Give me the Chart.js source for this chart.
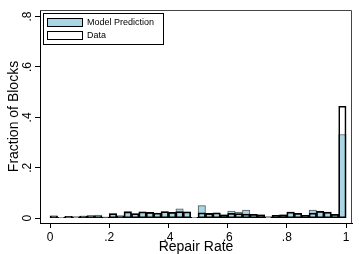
<!DOCTYPE html>
<html>
<head>
<meta charset="utf-8">
<script src="https://cdn.jsdelivr.net/npm/chart.js@4.4.1/dist/chart.umd.min.js"></script>
<style>
  html, body { margin: 0; padding: 0; background: #fff; }
</style>
</head>
<body>
<canvas id="chart" width="359" height="254"></canvas>
<script>
// histogram bins of width .025 on the repair rate
const binCenters = [
  0.0125, 0.0375, 0.0625, 0.0875, 0.1125, 0.1375, 0.1625, 0.1875, 0.2125, 0.2375,
  0.2625, 0.2875, 0.3125, 0.3375, 0.3625, 0.3875, 0.4125, 0.4375, 0.4625, 0.4875,
  0.5125, 0.5375, 0.5625, 0.5875, 0.6125, 0.6375, 0.6625, 0.6875, 0.7125, 0.7375,
  0.7625, 0.7875, 0.8125, 0.8375, 0.8625, 0.8875, 0.9125, 0.9375, 0.9625, 0.9875
];
const modelPrediction = [
  0.008, 0.003, 0.006, 0.005, 0.008, 0.010, 0.012, 0.004, 0.017, 0.009,
  0.026, 0.017, 0.024, 0.021, 0.019, 0.025, 0.022, 0.037, 0.024, 0.003,
  0.050, 0.015, 0.020, 0.013, 0.028, 0.024, 0.032, 0.015, 0.013, 0.005,
  0.011, 0.013, 0.024, 0.019, 0.011, 0.032, 0.026, 0.022, 0.015, 0.332
];
const dataShare = [
  0.009, 0.003, 0.007, 0.005, 0.008, 0.009, 0.008, 0.004, 0.018, 0.009,
  0.025, 0.018, 0.025, 0.023, 0.020, 0.026, 0.023, 0.026, 0.025, 0.003,
  0.021, 0.019, 0.021, 0.013, 0.019, 0.018, 0.016, 0.015, 0.013, 0.005,
  0.011, 0.013, 0.024, 0.019, 0.011, 0.020, 0.027, 0.024, 0.015, 0.444
];
const xTicks = [0, 0.2, 0.4, 0.6, 0.8, 1];
const yTicks = [0, 0.2, 0.4, 0.6, 0.8];
const seriesLabels = ['Model Prediction', 'Data'];

const FONT = 'Liberation Sans, Arial, sans-serif';
const MODEL_FILL = '#a8d6e4';

// stata style: no leading zero
function stataNum(v) {
  return String(+v.toFixed(2)).replace(/^0\./, '.');
}

function toPoints(vals) {
  return binCenters.map((x, i) => ({ x, y: vals[i] }));
}

// plot region box + legend inside the plot
const frameAndLegend = {
  id: 'frameAndLegend',
  afterDatasetsDraw(chart) {
    const { ctx, chartArea: a } = chart;
    ctx.save();
    ctx.strokeStyle = '#444';
    ctx.lineWidth = 1;
    ctx.beginPath();
    ctx.moveTo(a.left, a.top + 0.5);
    ctx.lineTo(a.right - 0.5, a.top + 0.5);
    ctx.lineTo(a.right - 0.5, a.bottom);
    ctx.stroke();

    const x0 = a.left + 3, y0 = a.top + 3;
    ctx.fillStyle = '#fff';
    ctx.fillRect(x0, y0, 120, 31);
    ctx.strokeStyle = '#000';
    ctx.strokeRect(x0 + 0.5, y0 + 0.5, 120, 31);

    ctx.font = '9px ' + FONT;
    ctx.textBaseline = 'middle';
    chart.data.datasets.forEach((ds, i) => {
      const sy = y0 + 5 + i * 13;
      ctx.fillStyle = ds.legendFill;
      ctx.fillRect(x0 + 4, sy, 36, 9);
      ctx.strokeStyle = '#000';
      ctx.strokeRect(x0 + 4.5, sy + 0.5, 35, 8);
      ctx.fillStyle = '#000';
      ctx.fillText(ds.label, x0 + 44, sy + 5);
    });
    ctx.restore();
  }
};

const barCommon = {
  borderWidth: 1,
  borderSkipped: false,
  barPercentage: 1,
  categoryPercentage: 1,
  grouped: false
};

new Chart(document.getElementById('chart'), {
  type: 'bar',
  data: {
    datasets: [
      {
        ...barCommon,
        label: seriesLabels[0],
        data: toPoints(modelPrediction),
        backgroundColor: MODEL_FILL,
        borderColor: '#555',
        legendFill: MODEL_FILL,
        order: 1
      },
      {
        ...barCommon,
        label: seriesLabels[1],
        data: toPoints(dataShare),
        backgroundColor: 'rgba(0,0,0,0)',
        borderColor: '#000',
        legendFill: '#fff',
        order: 0
      }
    ]
  },
  options: {
    responsive: false,
    animation: false,
    layout: { padding: { top: 10, right: 7, left: 0, bottom: 0 } },
    plugins: { legend: { display: false }, tooltip: { enabled: false } },
    scales: {
      x: {
        type: 'linear',
        min: -0.034,
        max: 1.02,
        offset: false,
        grid: { drawOnChartArea: false, offset: false, tickLength: 5, tickColor: '#000' },
        border: { color: '#000', width: 1 },
        afterBuildTicks: s => { s.ticks = xTicks.map(v => ({ value: v })); },
        afterFit: s => { s.height = 31; },
        ticks: {
          padding: 2,
          color: '#000',
          font: { family: FONT, size: 12 },
          callback: v => stataNum(v),
          maxRotation: 0
        },
        title: {
          display: true,
          text: 'Repair Rate',
          color: '#000',
          font: { family: FONT, size: 14, lineHeight: 1 },
          padding: { top: 0, bottom: 0 }
        }
      },
      y: {
        min: -0.019,
        max: 0.826,
        grid: { drawOnChartArea: false, tickLength: 5, tickColor: '#000' },
        border: { color: '#000', width: 1 },
        afterBuildTicks: s => { s.ticks = yTicks.map(v => ({ value: v })); },
        afterFit: s => { s.width = 40; },
        ticks: {
          padding: 2,
          color: '#000',
          crossAlign: 'center',
          minRotation: 90,
          maxRotation: 90,
          font: { family: FONT, size: 12 },
          callback: v => stataNum(v)
        },
        title: {
          display: true,
          text: 'Fraction of Blocks',
          color: '#000',
          font: { family: FONT, size: 14, lineHeight: 1 },
          padding: { top: 7, bottom: 0 }
        }
      }
    }
  },
  plugins: [frameAndLegend]
});
</script>
</body>
</html>
